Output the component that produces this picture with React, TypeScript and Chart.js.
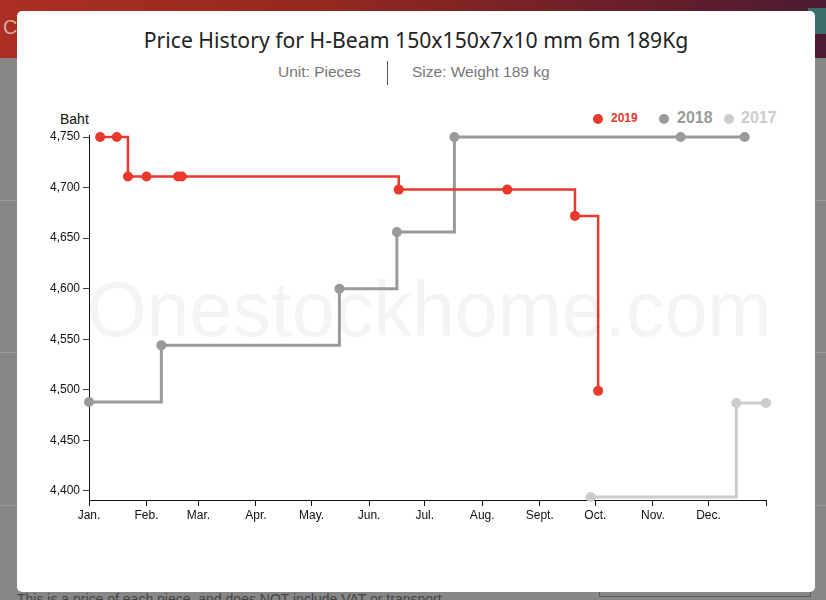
import React, { useEffect, useRef } from 'react';
import { Chart, registerables } from 'chart.js';

Chart.register(...registerables);

// ---- data ----
const monthLabels = ['Jan.', 'Feb.', 'Mar.', 'Apr.', 'May.', 'Jun.', 'Jul.', 'Aug.', 'Sept.', 'Oct.', 'Nov.', 'Dec.', ''];
const monthStartDays = [0, 31, 59, 90, 120, 151, 181, 212, 243, 273, 304, 334, 365];
const yTickValues = [4400, 4450, 4500, 4550, 4600, 4650, 4700, 4750];

const days2019 = [6, 15, 21, 31, 48, 50, 167, 225.5, 262, 274.5];
const price2019 = [4750, 4750, 4711, 4711, 4711, 4711, 4698, 4698, 4672, 4499];

const days2018 = [0, 39, 135, 166, 197, 319, 353.5];
const price2018 = [4488, 4544, 4600, 4656, 4750, 4750, 4750];

const days2017 = [270.5, 349, 365];
const price2017 = [4394, 4487, 4487];

const seriesNames = ['2019', '2018', '2017'];
const seriesColors = ['#e8392c', '#9a9a9a', '#cccccc'];

const toPoints = (xs: number[], ys: number[]) => xs.map((x, i) => ({ x, y: ys[i] }));

export default function App() {
  const ref = useRef<HTMLCanvasElement>(null);

  useEffect(() => {
    const all = [
      toPoints(days2019, price2019),
      toPoints(days2018, price2018),
      toPoints(days2017, price2017),
    ];
    const chart = new Chart(ref.current as HTMLCanvasElement, {
      type: 'line',
      data: {
        datasets: all.map((pts, i) => ({
          label: seriesNames[i],
          data: pts,
          stepped: true,
          borderColor: seriesColors[i],
          backgroundColor: seriesColors[i],
          pointBackgroundColor: seriesColors[i],
          pointBorderColor: seriesColors[i],
          borderWidth: i === 0 ? 2.5 : 3,
          pointRadius: 5,
          pointBorderWidth: 0,
          fill: false,
          clip: false,
        })),
      },
      options: {
        responsive: false,
        animation: false,
        layout: { padding: { top: 135, right: 60, bottom: 60, left: 0 } },
        plugins: { legend: { display: false }, title: { display: false }, tooltip: { enabled: false } },
        scales: {
          x: {
            type: 'linear',
            min: 0,
            max: 365,
            afterBuildTicks: (s: any) => {
              s.ticks = monthStartDays.map((v) => ({ value: v }));
            },
            afterFit: (s: any) => {
              s.height = 40;
            },
            ticks: {
              autoSkip: false,
              maxRotation: 0,
              padding: 2,
              color: '#111',
              font: { family: 'Arial, "Liberation Sans", sans-serif', size: 12 },
              callback: (v: any) => {
                const idx = monthStartDays.indexOf(Number(v));
                return idx >= 0 ? monthLabels[idx] : '';
              },
            },
            grid: { drawOnChartArea: false, drawTicks: true, tickLength: 6, color: '#111' },
            border: { display: true, color: '#111', width: 1 },
          },
          y: {
            type: 'linear',
            min: 4391.1,
            max: 4752,
            afterBuildTicks: (s: any) => {
              s.ticks = yTickValues.map((v) => ({ value: v }));
            },
            afterFit: (s: any) => {
              s.width = 89;
            },
            ticks: {
              padding: 3,
              color: '#111',
              font: { family: 'Arial, "Liberation Sans", sans-serif', size: 12 },
              callback: (v: any) => Number(v).toLocaleString('en-US'),
            },
            grid: { drawOnChartArea: false, drawTicks: true, tickLength: 6, color: '#444' },
            border: { display: true, color: '#111', width: 1 },
          },
        },
      },
    });
    return () => chart.destroy();
  }, []);

  const legendItems = [
    { name: seriesNames[0], color: seriesColors[0], dotX: 598, textX: 611, size: 12 },
    { name: seriesNames[1], color: seriesColors[1], dotX: 664, textX: 677, size: 16 },
    { name: seriesNames[2], color: seriesColors[2], dotX: 729, textX: 741, size: 16 },
  ];

  return (
    <div
      style={{
        position: 'fixed',
        left: 0,
        top: 0,
        width: 826,
        height: 600,
        overflow: 'hidden',
        background: '#878787',
        fontFamily: 'Arial, "Liberation Sans", sans-serif',
      }}
    >
      {/* page behind overlay */}
      <div
        style={{
          position: 'absolute',
          left: 0,
          top: 0,
          width: 826,
          height: 58,
          background: 'linear-gradient(90deg, #ab2f22 0%, #93281f 40%, #6a1f2a 75%, #4b1b33 100%)',
        }}
      />
      <div style={{ position: 'absolute', left: 3, top: 16, color: '#d8aaa5', fontSize: 20 }}>C</div>
      <div style={{ position: 'absolute', left: 808, top: 8, width: 18, height: 26, background: '#3c6e6e' }} />
      <div style={{ position: 'absolute', left: 0, top: 200, width: 826, height: 1, background: '#9a9a9a' }} />
      <div style={{ position: 'absolute', left: 0, top: 352, width: 826, height: 1, background: '#9a9a9a' }} />
      <div style={{ position: 'absolute', left: 0, top: 505, width: 826, height: 1, background: '#9a9a9a' }} />
      <div style={{ position: 'absolute', left: 599, top: 560, width: 212, height: 37, border: '1px solid #5a5a5a', boxSizing: 'border-box' }} />
      <div style={{ position: 'absolute', left: 17, top: 591, color: '#444', fontSize: 14, whiteSpace: 'nowrap' }}>
        This is a price of each piece, and does NOT include VAT or transport
      </div>

      {/* modal */}
      <div
        style={{
          position: 'absolute',
          left: 17,
          top: 11,
          width: 798,
          height: 581,
          background: '#ffffff',
          borderRadius: 5,
        }}
      />
      {/* watermark */}
      <div
        style={{
          position: 'absolute',
          left: 30,
          width: 798,
          top: 265,
          textAlign: 'center',
          fontSize: 77,
          color: '#f4f4f4',
          whiteSpace: 'nowrap',
        }}
      >
        Onestockhome.com
      </div>
      {/* title */}
      <div
        style={{
          position: 'absolute',
          left: 17,
          width: 798,
          top: 25,
          textAlign: 'center',
          fontSize: 21.2,
          color: '#222',
          fontFamily: '"Noto Sans", "Open Sans", sans-serif',
          whiteSpace: 'nowrap',
        }}
      >
        Price History for H-Beam 150x150x7x10 mm 6m 189Kg
      </div>
      {/* subtitle */}
      <div style={{ position: 'absolute', left: 278, top: 63, fontSize: 15.5, color: '#777', whiteSpace: 'nowrap' }}>
        Unit: Pieces
      </div>
      <div style={{ position: 'absolute', left: 387, top: 61, width: 1, height: 24, background: '#555' }} />
      <div style={{ position: 'absolute', left: 412, top: 63, fontSize: 15.5, color: '#777', whiteSpace: 'nowrap' }}>
        Size: Weight 189 kg
      </div>
      {/* legend */}
      {legendItems.map((it) => (
        <React.Fragment key={it.name}>
          <div
            style={{
              position: 'absolute',
              left: it.dotX - 5,
              top: 114,
              width: 10,
              height: 10,
              borderRadius: 5,
              background: it.color,
            }}
          />
          <div
            style={{
              position: 'absolute',
              left: it.textX,
              top: 119 - it.size * 0.6,
              fontSize: it.size,
              fontWeight: 'bold',
              color: it.color,
              lineHeight: 1.1,
            }}
          >
            {it.name}
          </div>
        </React.Fragment>
      ))}
      {/* y-axis unit */}
      <div style={{ position: 'absolute', left: 60, top: 111, fontSize: 14, color: '#111' }}>Baht</div>
      <canvas
        ref={ref}
        width={826}
        height={600}
        style={{ position: 'absolute', left: 0, top: 0, width: 826, height: 600 }}
      />
    </div>
  );
}
